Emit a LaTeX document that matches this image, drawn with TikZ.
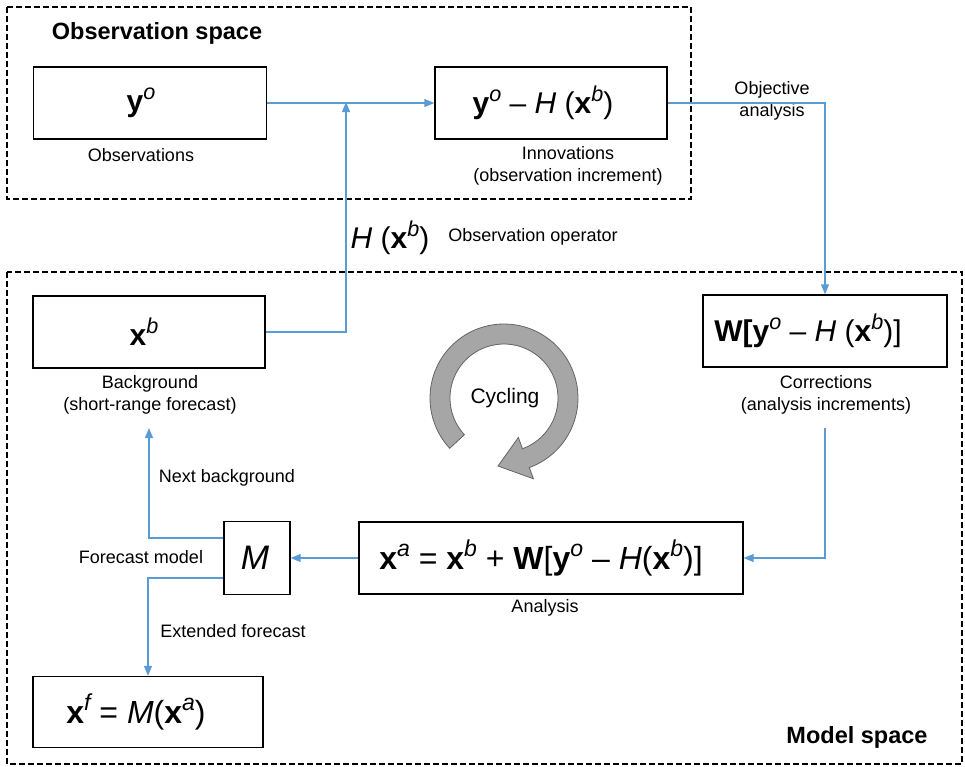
\documentclass[tikz,border=0pt]{standalone}
\usepackage{fontspec}
\usepackage{graphicx}
\setmainfont{Liberation Sans}
\usetikzlibrary{arrows.meta,calc}
\definecolor{lineblue}{RGB}{91,155,213}
\definecolor{cyclefill}{RGB}{166,166,166}
\definecolor{cycledraw}{RGB}{100,100,100}
\newcommand\sps[1]{\raisebox{0.4em}{\scalebox{0.72}{\normalfont\itshape #1}}}
\newcommand\bxv{\textbf{x}}
\newcommand\byv{\textbf{y}}
\newcommand\tshift[1]{\kern#1pt}
\begin{document}
\begin{tikzpicture}[x=1pt,y=-1pt,
  box/.style={draw=black,line width=1.4pt,rectangle,inner sep=0pt,font=\fontsize{30}{36}\selectfont},
  lbl/.style={inner sep=0pt,align=center,font=\fontsize{18}{22}\selectfont},
  ttl/.style={inner sep=0pt,font=\fontsize{23.5}{28}\selectfont\bfseries},
  frame/.style={draw=black,line width=2pt,dash pattern=on 6pt off 3pt},
  conn/.style={draw=lineblue,line width=1.2pt},
  arr/.style={conn,-{Triangle[length=10pt,width=8pt]}}]
\useasboundingbox (0,0) rectangle (965,766);
% frames
\draw[frame] (7,7) rectangle (691,199);
\draw[frame] (7,272) rectangle (962,764);
\node[ttl] (obstitle) at (157,33) {Observation space};
\node[ttl] (modtitle) at (857,737) {Model space};
% boxes
\node[box,minimum width=233,minimum height=72] (yo) at (150,103) {\byv\sps{o}\tshift{18}};
\node[box,minimum width=232,minimum height=72] (inn) at (551,103) {\byv\sps{o} – \textit{H} (\bxv\sps{b})\tshift{16}};
\node[box,minimum width=232,minimum height=72] (xb) at (149,332) {\bxv\sps{b}\tshift{10}};
\node[box,minimum width=244,minimum height=72] (W) at (825,331) {\textbf{W[}\byv\sps{o} – \textit{H} (\bxv\sps{b})]\tshift{34}};
\node[box,minimum width=384,minimum height=72,font=\fontsize{32}{38}\selectfont] (an) at (551,558) {\bxv\sps{a} = \bxv\sps{b} + \textbf{W}[\byv\sps{o} – \textit{H}(\bxv\sps{b})]\tshift{20}};
\node[box,minimum width=66,minimum height=73,font=\fontsize{34}{40}\selectfont] (M) at (257,558) {\textit{M}\tshift{4}};
\node[box,minimum width=230,minimum height=71,font=\fontsize{32}{38}\selectfont] (xf) at (148,712) {\bxv\sps{f} = \textit{M}(\bxv\sps{a})\tshift{24}};
% labels
\node[lbl] (lobs) at (141,155) {Observations};
\node[lbl] (linn) at (568,166) {Innovations\\(observation increment)};
\node[lbl] (lxb) at (150,395) {Background\\(short-range forecast)};
\node[lbl] (lW) at (826,395) {Corrections\\(analysis increments)};
\node[lbl] (lan) at (545,608) {Analysis};
\node[lbl] (lfm) at (141,557) {Forecast model};
\node[lbl] (lnb) at (227,478) {Next background};
\node[lbl] (lef) at (233,631) {Extended forecast};
\node[lbl] (lobj) at (772,101) {Objective\\analysis};
\node[inner sep=0pt,font=\fontsize{30}{36}\selectfont] (lH) at (390,238) {\textit{H} (\bxv\sps{b})};
\node[lbl] (lop) at (533,237) {Observation operator};
% connectors
\coordinate (j1) at (346,103);
\coordinate (wb) at (825,428);
\coordinate (nb) at (149,428);
\draw[arr] (yo.east) -- (inn.west);
\draw[arr] (xb.east) -- (xb.east -| j1) -- ([yshift=1pt]j1);
\draw[arr] (inn.east) -- (inn.east -| W.north) -- (W.north);
\draw[arr] (wb) -- (wb |- an.east) -- (an.east);
\draw[arr] (an.west) -- (M.east);
\draw[arr] ([yshift=20pt]M.west) -- ([yshift=20pt]M.west -| nb) -- (nb);
\draw[arr] ([yshift=-20pt]M.west) -- ([yshift=-20pt]M.west -| xf.north) -- (xf.north);
% cycling arrow
\coordinate (C) at (504,398);
\filldraw[fill=cyclefill,draw=cycledraw,line width=0.8pt]
  (C) ++(222.8:74pt) arc[start angle=222.8,end angle=-70,radius=74pt]
  -- ($(C)+(-70:86pt)$) -- (498,466) -- ($(C)+(-70:42pt)$)
  -- ($(C)+(-70:54pt)$) arc[start angle=-70,end angle=222.8,radius=54pt] -- cycle;
\node[inner sep=0pt,font=\fontsize{21}{25}\selectfont] (cyc) at (505,398) {Cycling};
\end{tikzpicture}
\end{document}
